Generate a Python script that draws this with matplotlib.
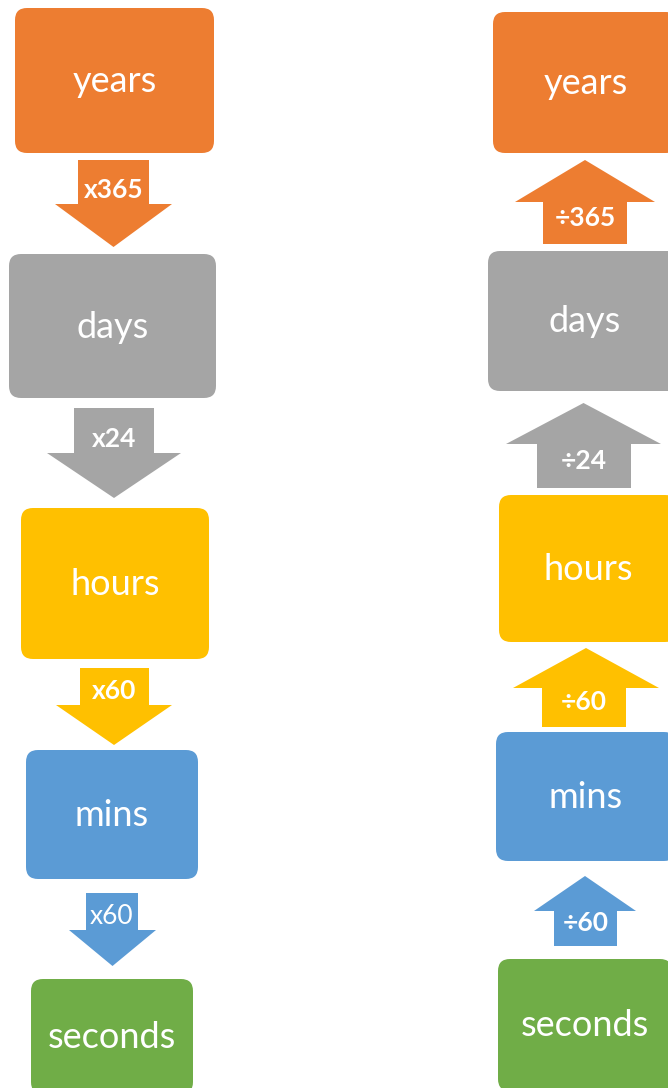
import matplotlib.pyplot as plt
from matplotlib.patches import FancyBboxPatch, Polygon

plt.rcParams['font.family'] = ['Lato', 'DejaVu Sans']

# --- data ---
units = ['years', 'days', 'hours', 'mins', 'seconds']
colors = ['#ED7D31', '#A5A5A5', '#FFC000', '#5B9BD5', '#70AD47']
mul_labels = ['x365', 'x24', 'x60', 'x60']
mul_bold = [True, True, True, False]
div_labels = ['÷365', '÷24', '÷60', '÷60']

# --- layout (pixels) ---
# boxes: (x0, y0, x1, y1), some run past the canvas edge
left_boxes = [(15, 8, 214, 153), (9, 254, 216, 398), (21, 508, 209, 659),
              (26, 750, 198, 879), (31, 979, 193, 1094)]
right_boxes = [(493, 12, 678, 153), (488, 251, 682, 391), (499, 495, 677, 642),
               (496, 732, 676, 861), (498, 959, 672, 1091)]
# arrows: shaft x0, shaft x1, head x0, head x1, tail y, head base y, tip y, label y
down_arrows = [(78, 149, 55, 172, 160, 204, 247, 190),
               (74, 154, 47, 181, 408, 453, 498, 439),
               (80, 149, 56, 172, 668, 705, 745, 691),
               (86, 138, 69, 156, 893, 930, 966, 917)]
up_arrows = [(543, 627, 515, 655, 244, 202, 160, 218),
             (537, 631, 506, 661, 488, 444, 403, 461),
             (542, 626, 513, 659, 727, 688, 648, 702),
             (554, 617, 534, 636, 946, 911, 876, 923)]

fig = plt.figure(figsize=(6.68, 10.88), dpi=100)
ax = fig.add_axes([0, 0, 1, 1])
ax.set_xlim(0, 668)
ax.set_ylim(1088, 0)
ax.axis('off')


def draw_box(b, color, text):
    x0, y0, x1, y1 = b
    ax.add_patch(FancyBboxPatch((x0, y0), x1 - x0, y1 - y0,
                                boxstyle='round,pad=0,rounding_size=12',
                                fc=color, ec='none'))
    ax.text((x0 + x1) / 2, (y0 + y1) / 2 + 1, text,
            color='white', fontsize=26, ha='center', va='center')


def draw_arrow(a, color, text, bold):
    sx0, sx1, hx0, hx1, ty, hy, tip, ly = a
    cx = (hx0 + hx1) / 2
    pts = [(sx0, ty), (sx1, ty), (sx1, hy), (hx1, hy), (cx, tip),
           (hx0, hy), (sx0, hy)]
    ax.add_patch(Polygon(pts, closed=True, fc=color, ec='none'))
    ax.text((sx0 + sx1) / 2, ly, text, color='white', fontsize=19,
            fontweight='bold' if bold else 'normal', ha='center', va='center')


for i, u in enumerate(units):
    draw_box(left_boxes[i], colors[i], u)
    draw_box(right_boxes[i], colors[i], u)

for i in range(4):
    draw_arrow(down_arrows[i], colors[i], mul_labels[i], mul_bold[i])
    draw_arrow(up_arrows[i], colors[i], div_labels[i], True)

fig.savefig('out.png', dpi=100)
